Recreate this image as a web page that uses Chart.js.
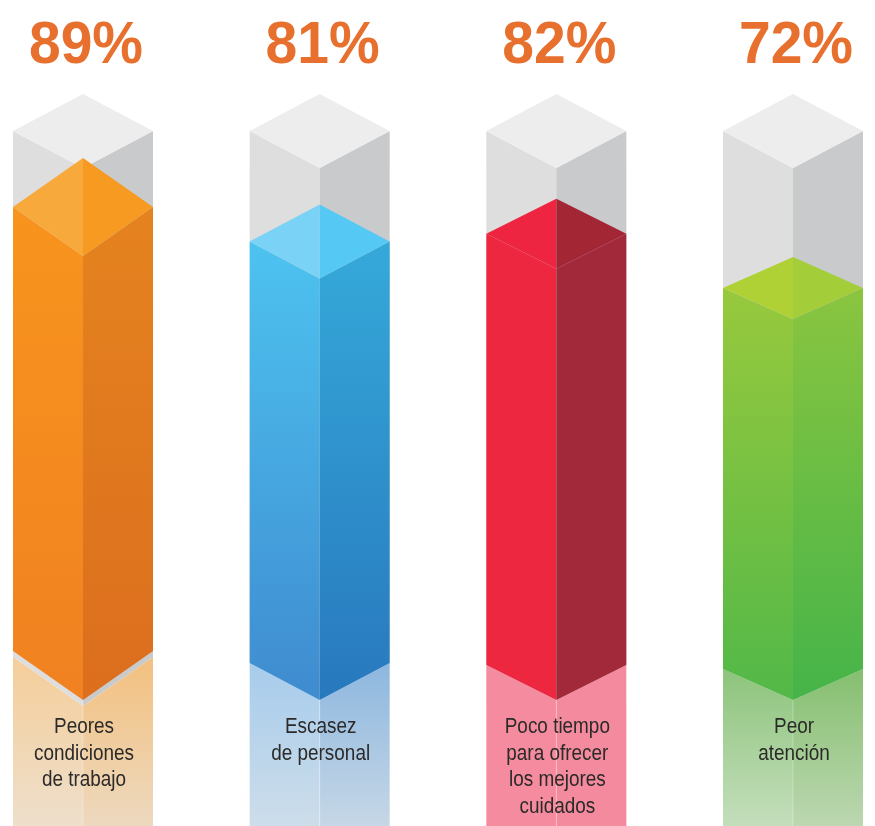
<!DOCTYPE html>
<html>
<head>
<meta charset="utf-8">
<script src="https://cdn.jsdelivr.net/npm/chart.js@4.4.1/dist/chart.umd.min.js"></script>
<style>
  html, body { margin: 0; padding: 0; background: #fff; }
  #wrap { width: 875px; height: 826px; }
</style>
</head>
<body>
<div id="wrap"><canvas id="prisms" width="875" height="826"></canvas></div>
<script>
// data
const categories = [
    ['Peores', 'condiciones', 'de trabajo'],
    ['Escasez', 'de personal'],
    ['Poco tiempo', 'para ofrecer', 'los mejores', 'cuidados'],
    ['Peor', 'atención']
];
const percentValues = [89, 81, 82, 72];
const trackValues = [100, 100, 100, 100];

// look of each column: front faces, top faces, pale foot
const faceColors = [
    { left: ['#F7941D', '#F18121'], right: ['#E5831F', '#DC6E1E'], topL: '#F8A93C', topR: '#F79A21',
      paleL: ['#F5CD98', '#EEDFCB'], paleR: ['#F3BF7C', '#EDD9BF'] },
    { left: ['#4DC3F0', '#3F8BCF'], right: ['#35A9D9', '#2878BE'], topL: '#7AD2F7', topR: '#55C9F4',
      paleL: ['#A7CCEC', '#CDDDEA'], paleR: ['#8DB7DF', '#C6D7E6'] },
    { left: ['#EE2740', '#EE2740'], right: ['#A1293A', '#A1293A'], topL: '#EE2540', topR: '#A32634',
      paleL: ['#F58B9E', '#F58B9E'], paleR: ['#F48A9D', '#F48A9D'] },
    { left: ['#98C93D', '#52B848'], right: ['#8AC540', '#45B449'], topL: '#B0D136', topR: '#A3CD39',
      paleL: ['#8DC47B', '#C4DEBC'], paleR: ['#85BF6F', '#BCD7B1'] }
];
const tilt = [49, 37, 35, 31];
const paleGap = [6, 0, 0, 0];
const trackTilt = 37;
const chevronDrop = 24;

const vGrad = (ctx, y0, y1, stops) => {
    const g = ctx.createLinearGradient(0, y0, 0, y1);
    g.addColorStop(0, stops[0]);
    g.addColorStop(1, stops[1]);
    return g;
};

const poly = (ctx, pts, fill) => {
    ctx.beginPath();
    ctx.moveTo(pts[0][0], pts[0][1]);
    for (let k = 1; k < pts.length; k++) ctx.lineTo(pts[k][0], pts[k][1]);
    ctx.closePath();
    ctx.fillStyle = fill;
    ctx.fill();
};

const drawTrack = (ctx, el, i, H) => {
    const x = el.x, hw = el.width / 2, top = el.y, d = trackTilt;
    const vertex = el.base + chevronDrop;
    const B = vertex - tilt[i];
    const g = paleGap[i];
    const c = faceColors[i];
    // grey empty column
    poly(ctx, [[x - hw, top + d], [x, top + 2 * d], [x, vertex + g], [x - hw, B + g]], '#DEDEDE');
    poly(ctx, [[x + hw, top + d], [x, top + 2 * d], [x, vertex + g], [x + hw, B + g]], '#C9CACC');
    poly(ctx, [[x, top], [x + hw, top + d], [x, top + 2 * d], [x - hw, top + d]], '#EDEDED');
    // pale foot under the bar
    poly(ctx, [[x - hw, B + g], [x, vertex + g], [x, H], [x - hw, H]], vGrad(ctx, B, H, c.paleL));
    poly(ctx, [[x + hw, B + g], [x, vertex + g], [x, H], [x + hw, H]], vGrad(ctx, B, H, c.paleR));
    ctx.fillStyle = 'rgba(255,255,255,0.3)';
    ctx.fillRect(x - 0.5, vertex, 1, H - vertex);
};

const drawBar = (ctx, el, i) => {
    const x = el.x, hw = el.width / 2, top = el.y, d = tilt[i];
    const vertex = el.base + chevronDrop;
    const B = vertex - d;
    const c = faceColors[i];
    poly(ctx, [[x - hw, top + d], [x, top + 2 * d], [x, vertex], [x - hw, B]], vGrad(ctx, top + d, vertex, c.left));
    poly(ctx, [[x + hw, top + d], [x, top + 2 * d], [x, vertex], [x + hw, B]], vGrad(ctx, top + d, vertex, c.right));
    poly(ctx, [[x, top], [x, top + 2 * d], [x - hw, top + d]], c.topL);
    poly(ctx, [[x, top], [x + hw, top + d], [x, top + 2 * d]], c.topR);
};

const condensedText = (ctx, text, x, y, font, squeeze, color) => {
    ctx.save();
    ctx.font = font;
    ctx.fillStyle = color;
    ctx.textAlign = 'center';
    ctx.textBaseline = 'alphabetic';
    ctx.translate(x, y);
    ctx.scale(squeeze, 1);
    ctx.fillText(text, 0, 0);
    ctx.restore();
};

const prismPlugin = {
    id: 'prism',
    beforeDatasetDraw(chart, args) {
        const ctx = chart.ctx;
        ctx.save();
        args.meta.data.forEach((el, i) => {
            if (args.index === 1) drawTrack(ctx, el, i, chart.height);
            else drawBar(ctx, el, i);
        });
        ctx.restore();
        return false;
    },
    afterDatasetsDraw(chart) {
        const ctx = chart.ctx;
        const meta = chart.getDatasetMeta(0);
        meta.data.forEach((el, i) => {
            condensedText(ctx, percentValues[i] + '%', el.x + 3, 63,
                'bold 60px "Liberation Sans", Arial, sans-serif', 0.95, '#E8702F');
            categories[i].forEach((line, k) => {
                condensedText(ctx, line, el.x + 1, 733 + k * 26.7,
                    '22px "Liberation Sans", Arial, sans-serif', 0.86, '#2B2A29');
            });
        });
    }
};

new Chart(document.getElementById('prisms'), {
    type: 'bar',
    data: {
        labels: categories.map(c => c.join(' ')),
        datasets: [
            { label: 'Porcentaje', data: percentValues, barThickness: 140, grouped: false,
              backgroundColor: 'rgba(0,0,0,0)' },
            { label: 'Total', data: trackValues, barThickness: 140, grouped: false,
              backgroundColor: 'rgba(0,0,0,0)' }
        ]
    },
    plugins: [prismPlugin],
    options: {
        responsive: false,
        animation: false,
        devicePixelRatio: 1,
        layout: { padding: { top: 94, bottom: 150, left: 83, right: 82 } },
        scales: {
            x: { display: false, offset: false },
            y: { display: false, min: 0, max: 100 }
        },
        plugins: {
            legend: { display: false },
            tooltip: { enabled: false }
        }
    }
});
</script>
</body>
</html>
